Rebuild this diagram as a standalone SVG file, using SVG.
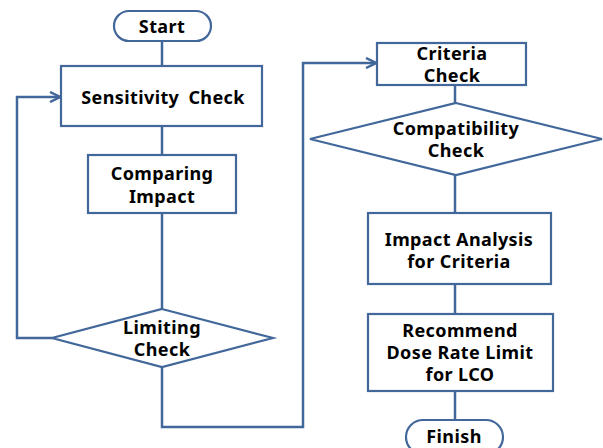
<svg xmlns="http://www.w3.org/2000/svg" width="603" height="448" viewBox="0 0 603 448">
<style>
.s{fill:#fff;stroke:#42679a;stroke-width:2.2}
.c{fill:none;stroke:#42679a;stroke-width:2.5}
text{font-family:"Noto Sans","Open Sans",sans-serif;font-weight:bold;font-size:18px;letter-spacing:0.4px;fill:#000;text-anchor:middle}
</style>
<defs>
<marker id="ah" viewBox="0 0 10 10" refX="9" refY="5" markerWidth="5" markerHeight="5" orient="auto" markerUnits="strokeWidth">
<path d="M1,1 L9,5 L1,9" fill="none" stroke="#42679a" stroke-width="2"/>
</marker>
</defs>
<rect width="603" height="448" fill="#fff"/>
<g id="connectors">
<path class="c" d="M162,41 V66"/>
<path class="c" d="M162,126 V155"/>
<path class="c" d="M162,213 V309"/>
<path class="c" d="M52,338 H17 V97 H60" marker-end="url(#ah)"/>
<path class="c" d="M162,367 V427 H303 V63 H376" marker-end="url(#ah)"/>
<path class="c" d="M455,85 V103"/>
<path class="c" d="M455,175 V213"/>
<path class="c" d="M455,284 V314"/>
<path class="c" d="M455,391 V420"/>
</g>
<g id="start">
<rect class="s" x="114" y="11" width="97" height="30" rx="15"/>
<text x="162" y="33">Start</text>
</g>
<g id="sensitivity">
<rect class="s" x="61" y="66" width="201" height="60"/>
<text x="163" y="104" word-spacing="4">Sensitivity Check</text>
</g>
<g id="comparing">
<rect class="s" x="88" y="155" width="148" height="58"/>
<text x="162" y="180">Comparing</text>
<text x="162" y="203">Impact</text>
</g>
<g id="limiting">
<polygon class="s" points="162,309 273,338 162,367 52,338"/>
<text x="162" y="334">Limiting</text>
<text x="162" y="356">Check</text>
</g>
<g id="criteria">
<rect class="s" x="377" y="43" width="149" height="42"/>
<text x="452" y="60">Criteria</text>
<text x="452" y="82">Check</text>
</g>
<g id="compatibility">
<polygon class="s" points="456,103 602,139 456,175 310,139"/>
<text x="456" y="135">Compatibility</text>
<text x="456" y="157">Check</text>
</g>
<g id="impact">
<rect class="s" x="368" y="213" width="183" height="71"/>
<text x="459" y="246">Impact Analysis</text>
<text x="459" y="268">for Criteria</text>
</g>
<g id="recommend">
<rect class="s" x="368" y="314" width="185" height="77"/>
<text x="460" y="337">Recommend</text>
<text x="460" y="359">Dose Rate Limit</text>
<text x="460" y="381">for LCO</text>
</g>
<g id="finish">
<rect class="s" x="406" y="420" width="97" height="34" rx="17"/>
<text x="454" y="443">Finish</text>
</g>
</svg>
